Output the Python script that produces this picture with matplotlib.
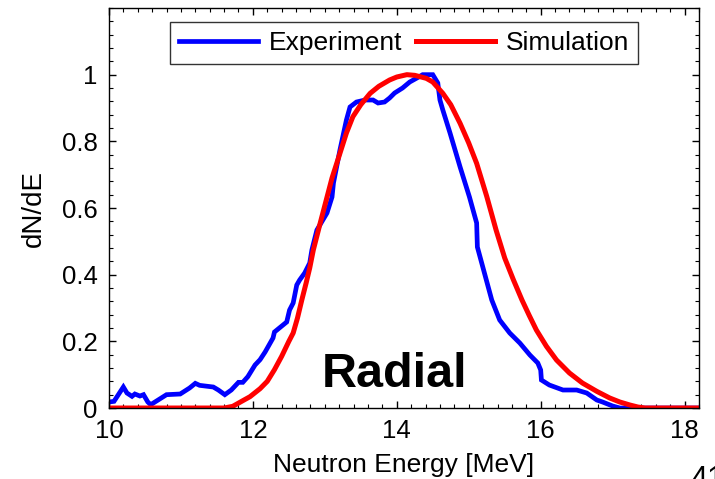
import matplotlib
matplotlib.use("Agg")
import matplotlib.pyplot as plt
from matplotlib.ticker import MultipleLocator

plt.rcParams['font.family'] = ['Liberation Sans', 'DejaVu Sans']

# Experiment (blue), stepped measured spectrum
exp_E = [10.0, 10.07, 10.2, 10.25, 10.32, 10.36, 10.43, 10.48, 10.54, 10.58, 10.8, 10.99,
         11.12, 11.2, 11.26, 11.45, 11.52, 11.61, 11.7, 11.8, 11.86, 11.93, 12.03, 12.1,
         12.17, 12.28, 12.3, 12.47, 12.51, 12.56, 12.61, 12.65, 12.72, 12.79, 12.82, 12.89,
         13.03, 13.1, 13.12, 13.21, 13.3, 13.35, 13.44, 13.56, 13.67, 13.74, 13.83, 13.9,
         13.97, 14.08, 14.18, 14.28, 14.36, 14.5, 14.57, 14.6, 14.64, 14.74, 14.88, 15.01,
         15.11, 15.12, 15.32, 15.43, 15.57, 15.71, 15.85, 15.96, 16.0, 16.01, 16.12, 16.31,
         16.5, 16.64, 16.78, 16.86, 17.0, 17.1, 18.2]
exp_N = [0.018, 0.02, 0.063, 0.045, 0.035, 0.042, 0.036, 0.04, 0.018, 0.01, 0.04, 0.042,
         0.06, 0.074, 0.068, 0.063, 0.054, 0.04, 0.054, 0.077, 0.077, 0.094, 0.129, 0.145,
         0.168, 0.21, 0.228, 0.258, 0.294, 0.315, 0.369, 0.384, 0.405, 0.435, 0.474, 0.534,
         0.585, 0.633, 0.675, 0.774, 0.864, 0.903, 0.918, 0.924, 0.924, 0.915, 0.918, 0.93,
         0.945, 0.96, 0.978, 0.99, 1.0, 1.0, 0.975, 0.924, 0.894, 0.825, 0.723, 0.633,
         0.555, 0.483, 0.324, 0.264, 0.225, 0.195, 0.159, 0.135, 0.114, 0.084, 0.069, 0.054,
         0.054, 0.045, 0.024, 0.018, 0.006, 0.0, 0.0]

# Simulation (red), smooth curve
sim_E = [10.0, 11.0, 11.6, 11.72, 11.86, 11.96, 12.1, 12.2, 12.3, 12.4, 12.5, 12.56,
         12.62, 12.68, 12.74, 12.79, 12.84, 12.93, 13.02, 13.1, 13.21, 13.3, 13.39, 13.5,
         13.63, 13.75, 13.9, 14.0, 14.14, 14.25, 14.41, 14.5, 14.64, 14.75, 14.88, 15.0,
         15.11, 15.25, 15.38, 15.5, 15.62, 15.74, 15.84, 15.94, 16.08, 16.22, 16.4, 16.58,
         16.78, 16.96, 17.1, 17.24, 17.35, 17.45, 18.2]
sim_N = [0.0, 0.0, 0.0, 0.005, 0.022, 0.034, 0.058, 0.08, 0.115, 0.155, 0.2, 0.225,
         0.27, 0.324, 0.375, 0.42, 0.474, 0.55, 0.624, 0.69, 0.764, 0.825, 0.874, 0.91,
         0.944, 0.965, 0.984, 0.993, 1.0, 0.998, 0.989, 0.978, 0.944, 0.91, 0.854, 0.795,
         0.734, 0.635, 0.534, 0.45, 0.385, 0.324, 0.278, 0.234, 0.185, 0.144, 0.105, 0.075,
         0.05, 0.03, 0.018, 0.009, 0.003, 0.0, 0.0]

x_ticks = [10, 12, 14, 16, 18]
y_ticks = [0, 0.2, 0.4, 0.6, 0.8, 1]
y_tick_labels = ['0', '0.2', '0.4', '0.6', '0.8', '1']

fig = plt.figure(figsize=(7.15, 4.79), dpi=100)
ax = fig.add_axes([0.1524, 0.1482, 0.8252, 0.8351])

ax.plot(exp_E, exp_N, color='#0000ff', lw=3.4, label='Experiment', solid_joinstyle='miter')
ax.plot(sim_E, sim_N, color='#ff0000', lw=3.6, label='Simulation')

ax.set_xlim(10, 18.2)
ax.set_ylim(0, 1.2)
ax.set_xticks(x_ticks)
ax.set_yticks(y_ticks)
ax.set_yticklabels(y_tick_labels)
ax.xaxis.set_minor_locator(MultipleLocator(0.2))
ax.yaxis.set_minor_locator(MultipleLocator(0.04))
ax.tick_params(which='both', direction='in', top=True, right=True, labelsize=18.5, pad=8)
ax.tick_params(which='major', length=5, width=1)
ax.tick_params(which='minor', length=3, width=0.8)
for s in ax.spines.values():
    s.set_linewidth(1.0)

ax.set_xlabel('Neutron Energy [MeV]', fontsize=19, labelpad=7)
ax.set_ylabel('dN/dE', fontsize=20, labelpad=11)

leg = ax.legend(loc='upper center', bbox_to_anchor=(0.5, 0.965), ncol=2, fontsize=19,
                frameon=True, fancybox=False, edgecolor='black', handlelength=3.0,
                handletextpad=0.4, columnspacing=0.5, borderpad=0.35, borderaxespad=0)
leg.get_frame().set_linewidth(1.0)

ax.text(13.97, 0.102, 'Radial', fontsize=35, fontweight='bold', ha='center', va='center')

fig.text(0.965, 0.03, '41', fontsize=22, ha='left', va='top')

fig.savefig('out.png', dpi=100)
